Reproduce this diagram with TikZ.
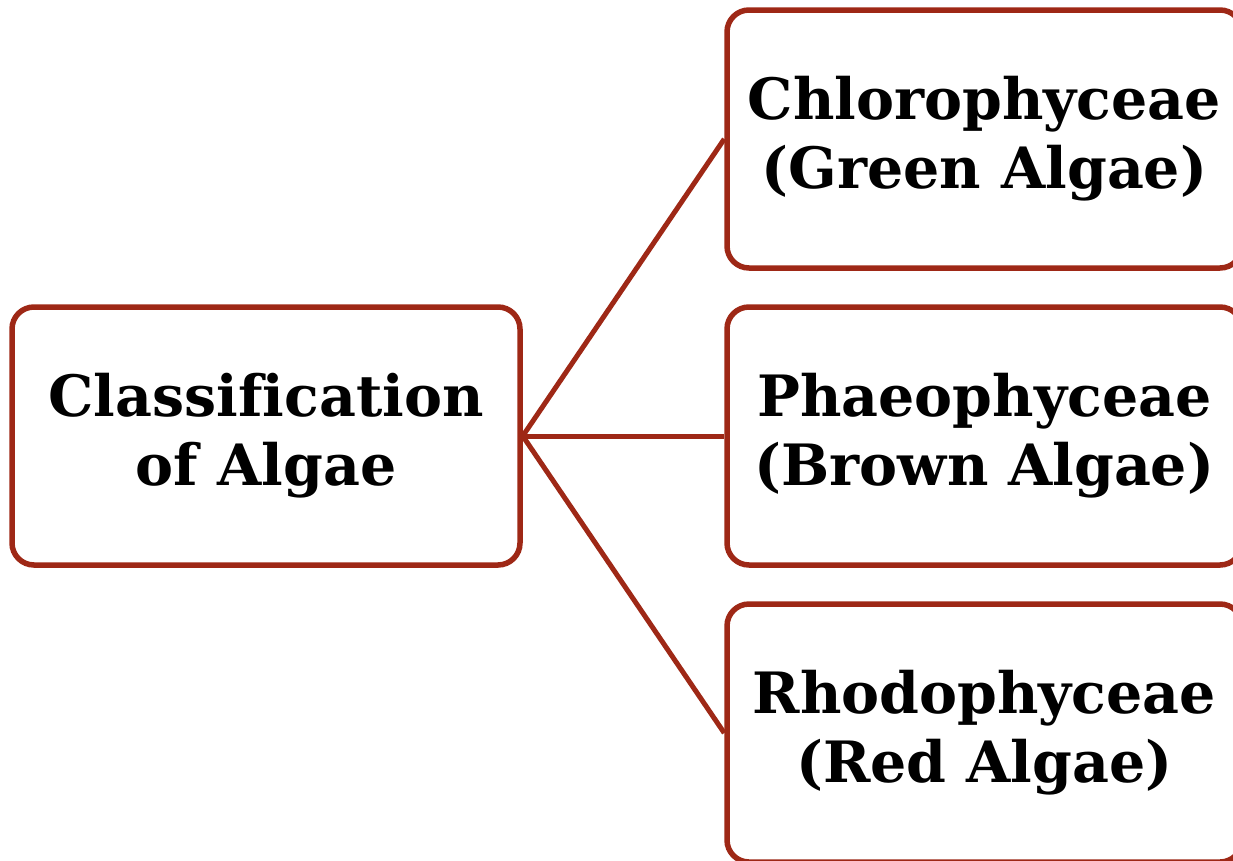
\documentclass[tikz,border=0pt]{standalone}
\usepackage{fontspec}
\setmainfont[Ligatures=NoCommon]{DejaVu Serif}
\definecolor{boxred}{RGB}{158,40,22}
\begin{document}
\begin{tikzpicture}[x=1pt,y=-1pt,
  box/.style={draw=boxred, line width=5.5pt, rounded corners=22pt, fill=white,
    minimum width=508pt, minimum height=258pt, inner sep=0pt, align=center,
    font=\fontsize{57}{69}\selectfont\bfseries},
  link/.style={draw=boxred, line width=5pt}]
\useasboundingbox (0,0) rectangle (1233,860);
\clip (0,0) rectangle (1233,860);
\node[box, minimum width=508pt] (root) at (266,436) {Classification\\of Algae};
\node[box, minimum width=515pt] (green) at (984.5,139) {Chlorophyceae\\(Green Algae)};
\node[box, minimum width=515pt] (brown) at (984.5,436) {Phaeophyceae\\(Brown Algae)};
\node[box, minimum width=515pt] (red) at (984.5,733) {Rhodophyceae\\(Red Algae)};
\draw[link] (root.east) -- (green.west);
\draw[link] (root.east) -- (brown.west);
\draw[link] (root.east) -- (red.west);
\end{tikzpicture}
\end{document}
